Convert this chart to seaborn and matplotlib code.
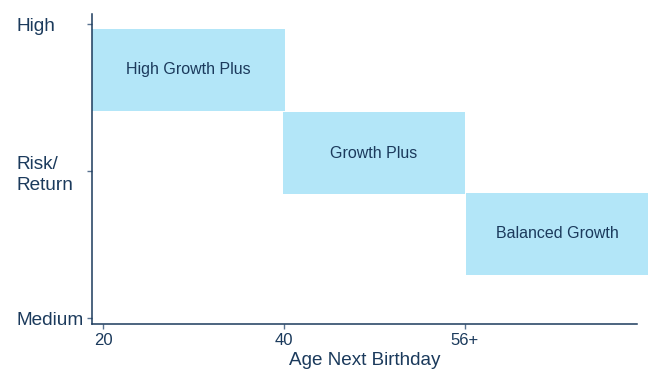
import matplotlib
matplotlib.use("Agg")
import matplotlib.pyplot as plt
import seaborn as sns
import pandas as pd

# Data
funds = ["High Growth Plus", "Growth Plus", "Balanced Growth"]
age_start = [-0.061, 0.994, 2.006]   # in tick-position units (0=20, 1=40, 2=56+)
age_end = [1.006, 2.0, 3.011]
risk_low = [1.411, 0.843, 0.295]     # 0=Medium, 1=Risk/Return, 2=High
risk_high = [1.969, 1.404, 0.853]
x_tick_pos = [0, 1, 2]
x_tick_labels = ["20", "40", "56+"]
y_tick_pos = [0, 1, 2]
y_tick_labels = ["Medium", "Risk/\nReturn", "High"]

df = pd.DataFrame({"fund": funds, "start": age_start, "end": age_end,
                   "low": risk_low, "high": risk_high})

sns.set_theme(style="ticks")
plt.rcParams["font.family"] = ["Liberation Sans", "DejaVu Sans"]

navy = "#1b3a5c"
box_color = "#b3e6f8"

fig = plt.figure(figsize=(6.51, 3.73), dpi=100)
ax = fig.add_axes([92 / 651, 49 / 373, (636.7 - 92) / 651, (324 - 14) / 373])

ax.bar(df["start"], df["high"] - df["low"], width=df["end"] - df["start"],
       bottom=df["low"], align="edge", color=box_color, linewidth=0,
       clip_on=False, zorder=1)
for _, r in df.iterrows():
    ax.text((r["start"] + r["end"]) / 2, (r["low"] + r["high"]) / 2, r["fund"],
            ha="center", va="center", fontsize=11.5, color=navy, zorder=3)

ax.set_xlim(-0.061, 2.949)
ax.set_ylim(-0.039, 2.071)
ax.set_xticks(x_tick_pos)
ax.set_xticklabels(x_tick_labels, fontsize=12, color=navy)
ax.set_yticks(y_tick_pos)
ax.set_yticklabels(y_tick_labels, fontsize=13.7, color=navy, linespacing=1.25)
for lab in ax.get_yticklabels():
    lab.set_horizontalalignment("left")
ax.tick_params(axis="y", length=3.6, width=1, color="#5a7390", pad=50.4)
ax.tick_params(axis="x", length=3.6, width=1, color="#5a7390", pad=3)
ax.set_xlabel("Age Next Birthday", fontsize=13.6, color=navy, labelpad=3)

sns.despine(ax=ax)
for s in ["left", "bottom"]:
    ax.spines[s].set_color(navy)
    ax.spines[s].set_linewidth(1.1)
    ax.spines[s].set_zorder(4)

fig.savefig("out.png", dpi=100)
